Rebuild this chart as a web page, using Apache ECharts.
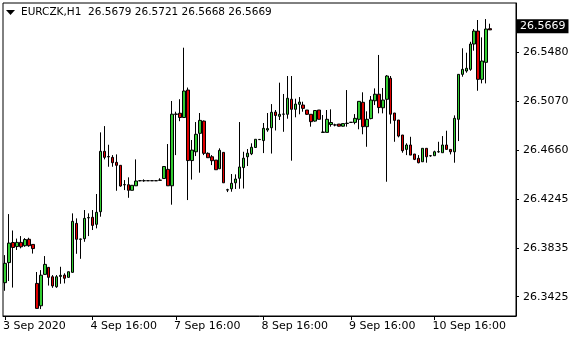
<!DOCTYPE html>
<html>
<head>
<meta charset="utf-8">
<script src="https://cdn.jsdelivr.net/npm/echarts@6/dist/echarts.min.js"></script>
<style>html,body{margin:0;padding:0;background:#fff}#c{width:580px;height:340px}</style>
</head>
<body>
<div id="c"></div>
<script>
const symbolName = 'EURCZK,H1';
const opens = [26.3543,26.3712,26.3881,26.3847,26.3882,26.3854,26.3908,26.3865,26.3537,26.3349,26.3613,26.3672,26.3593,26.3509,26.3596,26.3607,26.3588,26.3630,26.4042,26.3908,26.3913,26.4088,26.4093,26.4034,26.4140,26.4648,26.4601,26.4597,26.4555,26.4530,26.4366,26.4367,26.4320,26.4358,26.4400,26.4401,26.4400,26.4401,26.4400,26.4404,26.4419,26.4496,26.4358,26.4961,26.4968,26.4932,26.5163,26.4570,26.4644,26.4799,26.4902,26.4631,26.4602,26.4574,26.4501,26.4639,26.4322,26.4333,26.4383,26.4421,26.4511,26.4602,26.4627,26.4680,26.4746,26.4738,26.4827,26.4846,26.4978,26.4942,26.4960,26.4959,26.5086,26.5001,26.5043,26.5037,26.4995,26.4959,26.4902,26.4995,26.4807,26.4807,26.4873,26.4869,26.4877,26.4859,26.4882,26.4891,26.4891,26.4917,26.5060,26.4855,26.4923,26.5073,26.5128,26.5014,26.5085,26.5262,26.4970,26.4911,26.4785,26.4664,26.4701,26.4625,26.4589,26.4560,26.4673,26.4610,26.4611,26.4643,26.4636,26.4701,26.4664,26.4644,26.4917,26.5295,26.5323,26.5337,26.5550,26.5659,26.5253,26.5396,26.5679];
const highs = [26.3775,26.4120,26.3982,26.3914,26.3935,26.3918,26.3921,26.3865,26.3633,26.3649,26.3767,26.3672,26.3607,26.3607,26.3677,26.3622,26.3637,26.4126,26.4084,26.3914,26.4154,26.4126,26.4154,26.4289,26.4807,26.4860,26.4703,26.4616,26.4622,26.4530,26.4406,26.4429,26.4362,26.4580,26.4405,26.4412,26.4403,26.4403,26.4403,26.4421,26.4521,26.4709,26.5071,26.4981,26.5086,26.5519,26.5184,26.4743,26.4894,26.4970,26.4907,26.4639,26.4616,26.4574,26.4673,26.4639,26.4333,26.4457,26.4454,26.4894,26.4644,26.4667,26.4715,26.4749,26.4749,26.4886,26.4970,26.5045,26.4995,26.5225,26.5130,26.5281,26.5281,26.5090,26.5104,26.5065,26.4995,26.4959,26.4991,26.4995,26.4953,26.4995,26.5001,26.4880,26.4877,26.4881,26.5163,26.4893,26.4961,26.5068,26.5144,26.4984,26.5113,26.5177,26.5458,26.5180,26.5289,26.5281,26.4970,26.4911,26.4785,26.4715,26.4770,26.4625,26.4616,26.4673,26.4673,26.4616,26.4653,26.4728,26.4776,26.4821,26.4664,26.4950,26.5295,26.5514,26.5477,26.5569,26.5676,26.5752,26.5606,26.5760,26.5721];
const lows = [26.3475,26.3557,26.3502,26.3818,26.3832,26.3845,26.3845,26.3788,26.3325,26.3321,26.3612,26.3519,26.3500,26.3500,26.3534,26.3537,26.3586,26.3628,26.3786,26.3744,26.3887,26.3935,26.3986,26.4000,26.4098,26.4580,26.4518,26.4518,26.4316,26.4350,26.4322,26.4257,26.4320,26.4358,26.4396,26.4392,26.4398,26.4398,26.4398,26.4400,26.4419,26.4358,26.4199,26.4616,26.4901,26.4932,26.4238,26.4410,26.4608,26.4468,26.4616,26.4594,26.4532,26.4493,26.4501,26.4383,26.4305,26.4308,26.4331,26.4333,26.4335,26.4524,26.4616,26.4678,26.4743,26.4633,26.4812,26.4629,26.4823,26.4911,26.4812,26.4922,26.4569,26.4934,26.4959,26.4981,26.4953,26.4855,26.4897,26.4917,26.4806,26.4807,26.4855,26.4858,26.4856,26.4856,26.4855,26.4889,26.4875,26.4833,26.4791,26.4686,26.4917,26.5037,26.4967,26.4967,26.4392,26.4880,26.4728,26.4765,26.4636,26.4616,26.4616,26.4574,26.4547,26.4560,26.4552,26.4602,26.4611,26.4636,26.4636,26.4664,26.4622,26.4552,26.4734,26.5275,26.5309,26.5325,26.5494,26.5157,26.5219,26.5219,26.5668];
const closes = [26.3706,26.3876,26.3839,26.3882,26.3845,26.3906,26.3854,26.3830,26.3327,26.3606,26.3697,26.3588,26.3516,26.3593,26.3605,26.3580,26.3635,26.4059,26.3908,26.3910,26.4084,26.4091,26.4025,26.4135,26.4648,26.4597,26.4604,26.4552,26.4530,26.4356,26.4368,26.4320,26.4362,26.4398,26.4401,26.4400,26.4401,26.4400,26.4401,26.4406,26.4520,26.4358,26.4960,26.4959,26.4932,26.5155,26.4570,26.4658,26.4791,26.4908,26.4631,26.4594,26.4569,26.4493,26.4656,26.4383,26.4325,26.4379,26.4415,26.4516,26.4590,26.4632,26.4682,26.4749,26.4748,26.4841,26.4839,26.4976,26.4949,26.4959,26.4961,26.5094,26.5001,26.5045,26.5062,26.5009,26.4959,26.4897,26.4991,26.4917,26.4810,26.4917,26.4890,26.4870,26.4859,26.4881,26.4884,26.4892,26.4925,26.5068,26.4855,26.4917,26.5079,26.5128,26.5016,26.5079,26.5281,26.4960,26.4908,26.4776,26.4653,26.4701,26.4616,26.4580,26.4552,26.4673,26.4602,26.4611,26.4644,26.4645,26.4701,26.4664,26.4644,26.4925,26.5295,26.5337,26.5346,26.5550,26.5659,26.5253,26.5407,26.5676,26.5669];
const emptySlots = 6;
const xTickIndex = [0, 22, 43, 65, 87, 108];
const xTickLabels = ['3 Sep 2020', '4 Sep 16:00', '7 Sep 16:00', '8 Sep 16:00', '9 Sep 16:00', '10 Sep 16:00'];
const yTickValues = [26.3425, 26.3835, 26.4245, 26.4660, 26.5070, 26.5480];
const yMin = 26.3263, yMax = 26.5895;

const n = opens.length;
const cats = [];
const ohlc = [];
for (let i = 0; i < n + emptySlots; i++) {
  cats.push(String(i));
  if (i < n) ohlc.push([opens[i], closes[i], lows[i], highs[i]]);
  else ohlc.push('-');
}
const last = n - 1;
const titleText = symbolName + '  ' + [opens[last], highs[last], lows[last], closes[last]].map(v => v.toFixed(4)).join(' ');
const FONT = 'DejaVu Sans';
const chart = echarts.init(document.getElementById('c'), null, {renderer: 'canvas'});
chart.setOption({
  animation: false,
  backgroundColor: '#fff',
  title: {text: titleText, left: 21, top: 7, padding: 0,
    textStyle: {fontFamily: FONT, fontSize: 10.5, fontWeight: 'normal', color: '#000'}},
  graphic: [{type: 'polygon', shape: {points: [[6, 10], [15, 10], [10.5, 15]]}, style: {fill: '#000'}}],
  grid: {left: 2, right: 64, top: 3, bottom: 24, show: true, borderColor: '#000', borderWidth: 1, backgroundColor: '#fff'},
  xAxis: {
    type: 'category', data: cats, boundaryGap: true,
    axisLine: {show: true, lineStyle: {color: '#000'}},
    axisTick: {show: true, alignWithLabel: true, length: 4, lineStyle: {color: '#000'},
      interval: (i) => xTickIndex.indexOf(i) >= 0},
    axisLabel: {interval: (i) => xTickIndex.indexOf(i) >= 0,
      formatter: (v, i) => xTickLabels[xTickIndex.indexOf(i)] || '',
      align: 'left', margin: 5, color: '#000', fontFamily: FONT, fontSize: 11, padding: [0, 0, 0, -2]},
    splitLine: {show: false}
  },
  yAxis: {
    type: 'value', position: 'right', min: yMin, max: yMax, scale: true,
    axisLine: {show: true, lineStyle: {color: '#000'}},
    axisTick: {show: true, length: 3, customValues: yTickValues, lineStyle: {color: '#000'}},
    axisLabel: {customValues: yTickValues, formatter: (v) => v.toFixed(4), margin: 7,
      color: '#000', fontFamily: FONT, fontSize: 11},
    splitLine: {show: false}
  },
  series: [{
    type: 'candlestick', data: ohlc, barWidth: 3,
    itemStyle: {color: '#32CD32', color0: '#E00000', borderColor: '#000', borderColor0: '#000', borderColorDoji: '#000', borderWidth: 1},
    markLine: {
      silent: true, symbol: ['none', 'none'], animation: false,
      lineStyle: {color: 'rgba(0,0,0,0)', width: 1, type: 'solid'},
      label: {show: true, position: 'end', distance: 1, formatter: () => closes[last].toFixed(4),
        backgroundColor: '#000', color: '#fff', padding: [2, 3, 1, 3], fontFamily: FONT, fontSize: 11},
      emphasis: {disabled: true},
      data: [{yAxis: closes[last]}]
    }
  }]
});
</script>
</body>
</html>
